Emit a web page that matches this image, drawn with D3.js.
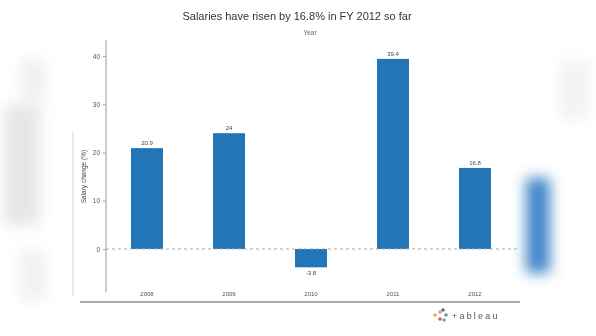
<!DOCTYPE html>
<html>
<head>
<meta charset="utf-8">
<script src="https://cdn.jsdelivr.net/npm/d3@7"></script>
<style>
  html, body { margin: 0; padding: 0; background: #fff; }
  svg { display: block; font-family: "Liberation Sans", Arial, sans-serif; }
</style>
</head>
<body>
<svg id="chart" width="596" height="336"></svg>
<script>
// Salary change by fiscal year
const years = ["2008", "2009", "2010", "2011", "2012"];
const changes = [20.9, 24, -3.8, 39.4, 16.8];
const valueLabels = ["20.9", "24", "-3.8", "39.4", "16.8"];
const yTicks = [0, 10, 20, 30, 40];

const svg = d3.select("#chart");

const defs = svg.append("defs");
defs.append("filter").attr("id", "soft").attr("x", "-50%").attr("y", "-50%").attr("width", "200%").attr("height", "200%")
  .append("feGaussianBlur").attr("stdDeviation", 7);
defs.append("filter").attr("id", "haze")
  .append("feGaussianBlur").attr("stdDeviation", 0.45);

// Out-of-focus backdrop at the edges of the panel
const bg = svg.append("g").attr("filter", "url(#soft)");
bg.append("rect").attr("x", 4).attr("y", 105).attr("width", 36).attr("height", 120).attr("fill", "#e6e6e6");
bg.append("rect").attr("x", 22).attr("y", 60).attr("width", 22).attr("height", 40).attr("fill", "#eeeeee");
bg.append("rect").attr("x", 20).attr("y", 250).attr("width", 26).attr("height", 50).attr("fill", "#f1f1f1");
bg.append("rect").attr("x", 526).attr("y", 178).attr("width", 24).attr("height", 95).attr("fill", "#3f86c8");
bg.append("rect").attr("x", 560).attr("y", 60).attr("width", 30).attr("height", 60).attr("fill", "#f3f3f3");
svg.append("line").attr("x1", 73).attr("x2", 73).attr("y1", 132).attr("y2", 296)
  .attr("stroke", "#d5e3f2").attr("stroke-width", 1.5);

const g = svg.append("g").attr("filter", "url(#haze)");

const x = d3.scaleBand().domain(years).range([106, 516]).paddingInner(0.61).paddingOuter(0.305);
const y = d3.scaleLinear().domain([-9.0, 40]).range([292.4, 56]);

// Title and field caption
g.append("text").attr("x", 297).attr("y", 20).attr("text-anchor", "middle")
  .attr("font-size", 11).attr("fill", "#333").text("Salaries have risen by 16.8% in FY 2012 so far");
g.append("text").attr("x", 310).attr("y", 35).attr("text-anchor", "middle")
  .attr("font-size", 6.5).attr("fill", "#666").text("Year");

// Y axis
const yAxis = d3.axisLeft(y).tickValues(yTicks).tickSize(3).tickPadding(3).tickFormat(d3.format("d"));
const ya = g.append("g").attr("transform", "translate(106,0)").call(yAxis);
ya.select(".domain").remove();
ya.selectAll(".tick line").attr("stroke", "#aaa");
ya.selectAll(".tick text").attr("font-size", 6.5).attr("fill", "#555");
g.append("line").attr("x1", 106).attr("x2", 106).attr("y1", 40).attr("y2", 292)
  .attr("stroke", "#999").attr("stroke-width", 1);

g.append("text").attr("transform", "translate(86," + y(15) + ") rotate(-90)")
  .attr("text-anchor", "middle").attr("font-size", 6.5).attr("fill", "#444")
  .text("Salary change (%)");

// Bars
g.selectAll("rect.bar").data(years).join("rect").attr("class", "bar")
  .attr("x", d => x(d))
  .attr("width", x.bandwidth())
  .attr("y", (d, i) => y(Math.max(0, changes[i])))
  .attr("height", (d, i) => Math.abs(y(changes[i]) - y(0)))
  .attr("fill", "#2274b6");

// Zero reference line
g.append("line").attr("x1", 106).attr("x2", 520).attr("y1", y(0)).attr("y2", y(0))
  .attr("stroke", "#aaa").attr("stroke-dasharray", "3,3").attr("stroke-width", 1);

// Value labels
g.selectAll("text.val").data(years).join("text").attr("class", "val")
  .attr("x", d => x(d) + x.bandwidth() / 2)
  .attr("y", (d, i) => changes[i] >= 0 ? y(changes[i]) - 3 : y(changes[i]) + 8)
  .attr("text-anchor", "middle").attr("font-size", 6).attr("fill", "#444")
  .text((d, i) => valueLabels[i]);

// X axis labels
const xAxis = d3.axisBottom(x).tickSize(0).tickPadding(0);
const xa = g.append("g").attr("transform", "translate(0,292)").call(xAxis);
xa.select(".domain").remove();
xa.selectAll(".tick text").attr("font-size", 6).attr("fill", "#555");

// Bottom rule
g.append("line").attr("x1", 80).attr("x2", 520).attr("y1", 302).attr("y2", 302)
  .attr("stroke", "#555").attr("stroke-width", 1);

// Tableau mark
const logo = g.append("g").attr("transform", "translate(437,316)");
const crossColors = ["#e8762b", "#5b6591", "#c72035", "#eb9129", "#1f447e", "#59879b"];
[[3, -4], [9, -1], [3, 3], [-2, -1], [6, -6], [7, 4]].forEach((p, i) => {
  logo.append("path").attr("d", `M${p[0] - 2},${p[1]}h4M${p[0]},${p[1] - 2}v4`)
    .attr("stroke", crossColors[i]).attr("stroke-width", 1);
});
logo.append("text").attr("x", 15).attr("y", 3).attr("font-size", 9).attr("fill", "#555")
  .attr("letter-spacing", 2.2).text("+ableau");
</script>
</body>
</html>
